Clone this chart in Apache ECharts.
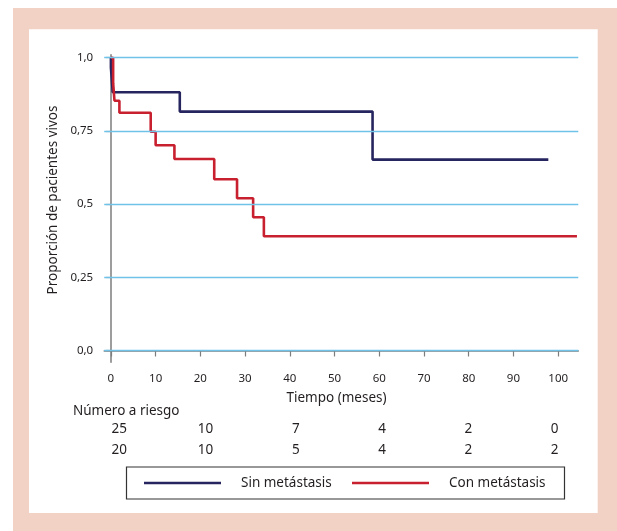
<!DOCTYPE html>
<html>
<head>
<meta charset="utf-8">
<script src="https://cdn.jsdelivr.net/npm/echarts@6/dist/echarts.min.js"></script>
<style>
html,body{margin:0;padding:0;background:#fff;}
#chart{width:617px;height:531px;}
</style>
</head>
<body>
<div id="chart"></div>
<script>
// ---- Data ----
const sinTimes = [0, 0, 0.4, 15.4, 58.5, 97.8];
const sinSurv  = [1.0, 0.966, 0.882, 0.816, 0.652, 0.652];
const conTimes = [0, 0.5, 0.8, 1.9, 8.9, 10.0, 14.2, 23.1, 28.2, 31.8, 34.2, 104.2];
const conSurv  = [1.0, 0.913, 0.853, 0.812, 0.747, 0.701, 0.654, 0.585, 0.520, 0.455, 0.390, 0.390];
const xTicks = [0, 10, 20, 30, 40, 50, 60, 70, 80, 90, 100];
const yTicks = [0, 0.25, 0.5, 0.75, 1.0];
const yTickLabels = ['0,0', '0,25', '0,5', '0,75', '1,0'];
const riskLabel = 'Número a riesgo';
const riskSin = [25, 10, 7, 4, 2, 0];
const riskCon = [20, 10, 5, 4, 2, 2];
const seriesNames = ['Sin metástasis', 'Con metástasis'];

const FONT = 'Noto Sans';
const TXT = '#231f20';
const BLUE = '#27255f';
const RED = '#c8202f';
const GRID = '#6fc3e8';
const AXIS = '#7d7d7d';

const chart = echarts.init(document.getElementById('chart'), null, {renderer: 'canvas'});

const riskGraphics = [];
const colX0 = 127, colStep = 86.3;
riskSin.forEach((v, i) => {
  riskGraphics.push({type: 'text', z: 10, style: {text: String(v), x: colX0 + i * colStep, y: 429, align: 'right', verticalAlign: 'middle', font: '13.5px "' + FONT + '"', fill: TXT}});
});
riskCon.forEach((v, i) => {
  riskGraphics.push({type: 'text', z: 10, style: {text: String(v), x: colX0 + i * colStep, y: 450, align: 'right', verticalAlign: 'middle', font: '13.5px "' + FONT + '"', fill: TXT}});
});

const option = {
  backgroundColor: '#ffffff',
  animation: false,
  textStyle: {fontFamily: FONT},
  grid: {left: 104.2, top: 54.8, width: 474.1, height: 307.4, containLabel: false},
  xAxis: {
    type: 'value', min: -1.5, max: 104.5,
    axisLine: {show: true, lineStyle: {color: AXIS, width: 1.5}},
    axisTick: {show: true, length: 6, customValues: xTicks, lineStyle: {color: AXIS, width: 1.2}},
    axisLabel: {customValues: xTicks, margin: 11, fontSize: 11.5, color: TXT, fontFamily: FONT},
    splitLine: {show: false}
  },
  yAxis: {
    type: 'value', min: -0.04, max: 1.01,
    axisLine: {show: true, lineStyle: {color: AXIS, width: 1.5}},
    axisTick: {show: true, length: 5, customValues: yTicks, lineStyle: {color: AXIS, width: 1.2}},
    axisLabel: {customValues: yTicks, margin: 11, fontSize: 11.5, color: TXT, fontFamily: FONT,
      formatter: function (v) { const i = yTicks.indexOf(v); return i >= 0 ? yTickLabels[i] : ''; }},
    splitLine: {show: false}
  },
  legend: [
    {data: [seriesNames[0]], left: 144, top: 475, padding: 0, itemWidth: 77, itemHeight: 2.5, icon: 'rect',
     textStyle: {fontSize: 13.5, lineHeight: 16, color: TXT, fontFamily: FONT, padding: [0, 0, 0, 15]}},
    {data: [seriesNames[1]], left: 352, top: 475, padding: 0, itemWidth: 77, itemHeight: 2.5, icon: 'rect',
     textStyle: {fontSize: 13.5, lineHeight: 16, color: TXT, fontFamily: FONT, padding: [0, 0, 0, 15]}}
  ],
  series: [
    {
      name: 'grid', type: 'line', data: [], z: 1, silent: true,
      markLine: {
        silent: true, symbol: ['none', 'none'], label: {show: false},
        lineStyle: {color: GRID, width: 1.3, type: 'solid'},
        emphasis: {disabled: true},
        data: yTicks.map(v => ({yAxis: v}))
      }
    },
    {
      name: seriesNames[0], type: 'line', step: 'end', showSymbol: false, z: 3,
      lineStyle: {color: BLUE, width: 2.6}, itemStyle: {color: BLUE},
      data: sinTimes.map((t, i) => [t, sinSurv[i]])
    },
    {
      name: seriesNames[1], type: 'line', step: 'end', showSymbol: false, z: 4,
      lineStyle: {color: RED, width: 2.6}, itemStyle: {color: RED},
      data: conTimes.map((t, i) => [t, conSurv[i]])
    }
  ],
  graphic: [
    {type: 'rect', z: -20, silent: true, shape: {x: 13, y: 8, width: 610, height: 530}, style: {fill: '#f2d2c5'}},
    {type: 'rect', z: -19, silent: true, shape: {x: 29, y: 29.3, width: 568.7, height: 483.7}, style: {fill: '#ffffff'}},
    {type: 'text', z: 10, style: {text: 'Proporción de pacientes vivos', x: 52.7, y: 200, align: 'center', verticalAlign: 'middle', font: '13.5px "' + FONT + '"', fill: TXT}, rotation: Math.PI / 2, x: 0, y: 0, originX: 52.7, originY: 200},
    {type: 'text', z: 10, style: {text: 'Tiempo (meses)', x: 336.5, y: 398, align: 'center', verticalAlign: 'middle', font: '13.5px "' + FONT + '"', fill: TXT}},
    {type: 'text', z: 10, style: {text: riskLabel, x: 73, y: 411, align: 'left', verticalAlign: 'middle', font: '13.5px "' + FONT + '"', fill: TXT}},
    {type: 'rect', z: 5, silent: true, shape: {x: 126.5, y: 467, width: 438, height: 32}, style: {fill: 'none', stroke: '#333333', lineWidth: 1.2}}
  ].concat(riskGraphics)
};
chart.setOption(option);
</script>
</body>
</html>
